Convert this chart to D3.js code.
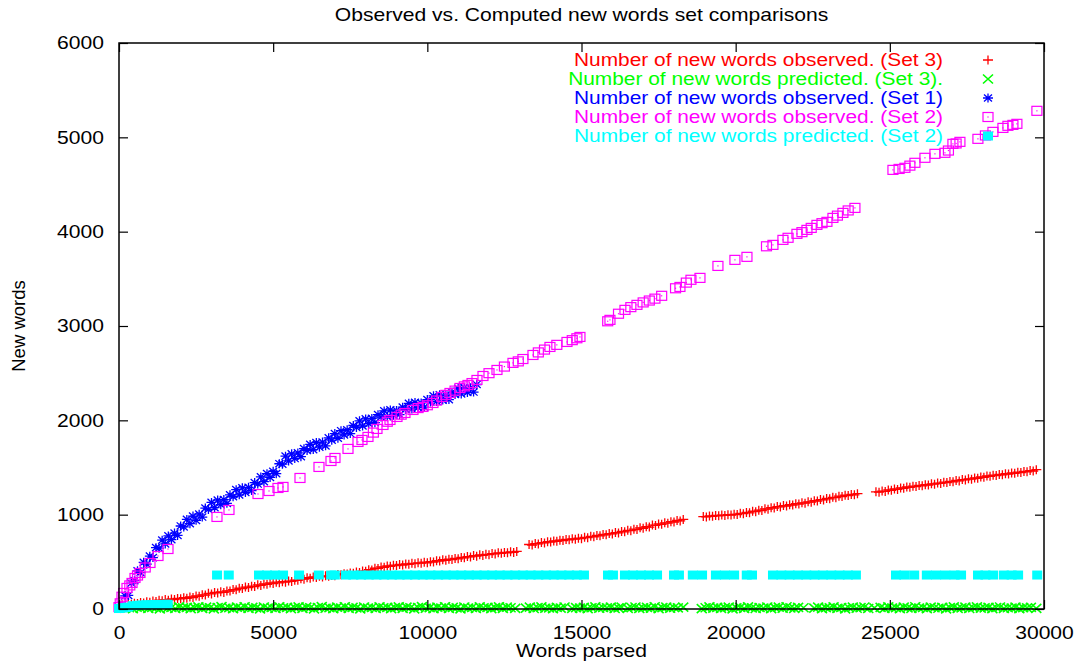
<!DOCTYPE html>
<html>
<head>
<meta charset="utf-8">
<script src="https://cdn.jsdelivr.net/npm/d3@7"></script>
<style>
    body { margin: 0; background: #fff; }
    text { font-family: "Liberation Sans", Arial, sans-serif; }
</style>
</head>
<body>
<svg class="chart"></svg>
<script>
'use strict';

// [words parsed, new words]
var set3Observed = [
    [0,25],[100,45],[200,40],[300,55],[400,50],[500,62],[600,58],[700,70],[800,64],[900,78],[1000,72],[1100,85],[1200,80],
    [1300,94],[1400,88],[1500,100],[1600,94],[1700,106],[1800,100],[1900,112],[2000,108],[2100,120],[2200,114],[2300,128],
    [2400,122],[2500,138],[2600,134],[2700,150],[2800,148],[2900,166],[3000,160],[3100,176],[3200,170],[3300,182],[3400,176],
    [3500,192],[3600,190],[3700,206],[3800,204],[3900,220],[4000,216],[4100,232],[4200,228],[4300,242],[4400,238],[4500,256],
    [4600,250],[4700,266],[4800,262],[4900,276],[5000,270],[5100,284],[5200,278],[5300,290],[5400,284],[5500,296],[5600,292],
    [5700,306],[5800,304],[5900,320],[6000,316],[6100,332],[6200,326],[6300,340],[6400,334],[6500,346],[6600,340],[6700,352],
    [6800,346],[6900,356],[7000,352],[7100,366],[7200,362],[7300,374],[7400,370],[7500,382],[7600,378],[7700,392],[7800,388],
    [7900,402],[8000,400],[8100,416],[8200,414],[8300,432],[8400,430],[8500,446],[8600,442],[8700,456],[8800,452],[8900,464],
    [9000,460],[9100,472],[9200,466],[9300,478],[9400,474],[9500,484],[9600,480],[9700,490],[9800,486],[9900,496],[10000,490],
    [10100,502],[10200,498],[10300,512],[10400,508],[10500,522],[10600,516],[10700,528],[10800,524],[10900,536],[11000,532],
    [11100,546],[11200,542],[11300,556],[11400,552],[11500,566],[11600,560],[11700,574],[11800,568],[11900,580],[12000,576],
    [12100,588],[12200,584],[12300,596],[12400,590],[12500,600],[12600,596],[12700,606],[12800,600],[12900,610],
    [13300,684],[13400,678],[13500,694],[13600,690],[13700,704],[13800,700],[13900,714],[14000,710],[14100,722],[14200,718],
    [14300,730],[14400,726],[14500,738],[14600,734],[14700,744],[14800,740],[14900,750],[15000,746],[15100,760],[15200,756],
    [15300,770],[15400,766],[15500,780],[15600,776],[15700,790],[15800,786],[15900,800],[16000,796],[16100,810],[16200,806],
    [16300,822],[16400,818],[16500,834],[16600,830],[16700,846],[16800,842],[16900,860],[17000,856],[17100,872],[17200,868],
    [17300,890],[17400,886],[17500,902],[17600,898],[17700,914],[17800,910],[17900,926],[18000,922],[18100,938],[18200,934],
    [18300,950],
    [18950,980],[19050,976],[19150,986],[19250,982],[19350,992],[19450,988],[19550,996],[19650,992],[19750,1000],[19850,996],
    [19950,1004],[20050,1002],[20150,1014],[20250,1010],[20350,1024],[20450,1020],[20550,1036],[20650,1032],[20750,1048],
    [20850,1044],[20950,1062],[21050,1058],[21150,1074],[21250,1070],[21350,1086],[21450,1082],[21550,1096],[21650,1092],
    [21750,1106],[21850,1102],[21950,1116],[22050,1112],[22150,1126],[22250,1122],[22350,1136],[22450,1132],[22550,1148],
    [22650,1144],[22750,1160],[22850,1156],[22950,1172],[23050,1168],[23150,1184],[23250,1180],[23350,1196],[23450,1192],
    [23550,1206],[23650,1202],[23750,1214],[23850,1210],[23950,1222],
    [24550,1242],[24650,1238],[24750,1250],[24850,1246],[24950,1262],[25050,1258],[25150,1272],[25250,1268],[25350,1284],
    [25450,1280],[25550,1294],[25650,1290],[25750,1302],[25850,1298],[25950,1310],[26050,1306],[26150,1318],[26250,1314],
    [26350,1327],[26450,1323],[26550,1335],[26650,1331],[26750,1344],[26850,1340],[26950,1352],[27050,1348],[27150,1362],
    [27250,1358],[27350,1372],[27450,1368],[27550,1380],[27650,1376],[27750,1390],[27850,1386],[27950,1400],[28050,1396],
    [28150,1410],[28250,1406],[28350,1418],[28450,1414],[28550,1426],[28650,1422],[28750,1434],[28850,1430],[28950,1442],
    [29050,1438],[29150,1450],[29250,1446],[29350,1458],[29450,1454],[29550,1467],[29650,1463],[29750,1477]
];

var set3Predicted = [
    [200,8],[325,15],[450,4],[575,20],[700,10],[825,24],[950,6],[1075,17],[1200,12],[1325,2],[1450,21],[1575,9],[1700,16],
    [1825,5],[1950,23],[2075,11],[2200,18],[2325,3],[2450,14],[2575,22],[2700,7],[2825,19],[2950,13],[3075,1],[3200,16],
    [3325,25],[3450,8],[3575,15],[3700,4],[3825,20],[3950,10],[4075,24],[4200,6],[4325,17],[4450,12],[4575,2],[4700,21],
    [4825,9],[4950,16],[5075,5],[5200,23],[5325,11],[5450,18],[5575,3],[5700,14],[5825,22],[5950,7],[6075,19],[6200,13],
    [6325,1],[6450,16],[6575,25],[6700,8],[6825,15],[6950,4],[7075,20],[7200,10],[7325,24],[7450,6],[7575,17],[7700,12],
    [7825,2],[7950,21],[8075,9],[8200,16],[8325,5],[8450,23],[8575,11],[8700,18],[8825,3],[8950,14],[9075,22],[9200,7],
    [9325,19],[9450,13],[9575,1],[9700,16],[9825,25],[9950,8],[10075,15],[10200,4],[10325,20],[10450,10],[10575,24],
    [10700,6],[10825,17],[10950,12],[11075,2],[11200,21],[11325,9],[11450,16],[11575,5],[11700,23],[11825,11],[11950,18],
    [12075,3],[12200,14],[12325,22],[12450,7],[12575,19],[12700,13],[12850,6],
    [13200,9],[13325,19],[13450,5],[13575,15],[13700,22],[13825,8],[13950,12],[14075,3],[14200,17],[14325,10],[14450,21],
    [14700,6],[14825,14],[14950,9],[15075,18],[15200,4],[15325,13],[15450,23],[15575,8],[15700,16],[15825,11],[15950,19],
    [16075,5],[16200,12],[16300,20],
    [16500,7],[16625,15],[16750,21],[16875,5],[17000,12],[17125,18],[17250,9],[17375,24],[17500,3],[17625,14],[17750,20],
    [17875,8],[18000,16],[18125,11],[18300,19],
    [18900,4],[19025,13],[19150,22],[19275,9],[19400,17],[19525,6],[19650,15],[19775,20],[19900,2],[20025,11],[20150,18],
    [20275,7],[20400,23],[20525,12],[20650,5],[20775,16],[20900,10],[21025,21],[21150,3],[21275,14],[21400,19],[21525,8],
    [21650,24],[21775,11],[21900,6],[22025,17],[22200,13],
    [22550,9],[22675,20],[22800,4],[22925,15],[23050,11],[23175,22],[23300,7],[23425,16],[23550,2],[23675,13],[23800,19],
    [23925,8],[24050,14],[24175,21],[24300,5],[24500,12],
    [24700,17],[24825,6],[24950,22],[25075,10],[25200,15],[25325,3],[25450,19],[25575,12],[25700,7],[25825,24],[25950,9],
    [26075,16],[26200,4],[26325,20],[26450,13],[26575,8],[26700,18],[26825,2],[26950,14],[27075,22],[27200,6],[27325,11],
    [27450,19],[27575,5],[27700,15],[27825,23],[27950,9],[28075,12],[28200,18],[28325,3],[28450,16],[28575,21],[28700,7],
    [28825,13],[28950,10],[29075,20],[29200,4],[29325,15],[29450,11],[29575,18],[29750,6]
];

var set1Observed = [
    [0,20],[100,30],[200,140],[300,145],[400,275],[500,300],[600,405],[700,385],[800,495],[900,475],[1000,560],[1100,545],
    [1200,650],[1300,645],[1400,730],[1500,690],[1600,775],[1700,735],[1800,805],[1900,780],[2000,880],[2100,870],[2200,950],
    [2300,905],[2400,985],[2500,940],[2600,1005],[2700,975],[2800,1070],[2900,1055],[3000,1130],[3100,1075],[3200,1155],
    [3300,1105],[3400,1160],[3500,1120],[3600,1210],[3700,1190],[3800,1265],[3900,1210],[4000,1285],[4100,1235],[4200,1290],
    [4300,1255],[4400,1340],[4500,1325],[4600,1400],[4700,1350],[4800,1435],[4900,1395],[5000,1460],[5100,1435],[5200,1540],
    [5300,1535],[5400,1620],[5500,1570],[5600,1645],[5700,1595],[5800,1655],[5900,1615],[6000,1700],[6100,1680],[6200,1745],
    [6300,1690],[6400,1765],[6500,1715],[6600,1770],[6700,1730],[6800,1815],[6900,1790],[7000,1860],[7100,1810],[7200,1890],
    [7300,1845],[7400,1900],[7500,1860],[7600,1945],[7700,1925],[7800,1995],[7900,1940],[8000,2015],[8100,1965],[8200,2020],
    [8300,1975],[8400,2060],[8500,2035],[8600,2100],[8700,2040],[8800,2110],[8900,2055],[9000,2105],[9100,2060],[9200,2140],
    [9300,2115],[9400,2180],[9500,2120],[9600,2190],[9700,2135],[9800,2185],[9900,2140],[10000,2220],[10100,2195],[10200,2260],
    [10300,2200],[10400,2270],[10500,2215],[10600,2265],[10700,2220],[10800,2300],[10900,2275],[11000,2340],[11100,2280],
    [11200,2350],[11300,2295],[11400,2345],[11500,2300],[11600,2380]
];

var set2Observed = [
    [0,20],[40,60],[97,130],[150,170],[259,223],[350,250],[422,276],[519,329],[600,355],[681,382],
    [850,440],[1005,488],[1265,562],[1589,636],
    [3178,976],[3567,1050],[4508,1219],[4865,1251],[5156,1283],[5319,1294],[5870,1389],[6486,1506],[6875,1569],[7005,1601],
    [7427,1697],[7751,1771],[7880,1792],[8075,1824],[8250,1870],[8367,1909],[8562,1951],[8700,1985],[8789,2004],[9016,2036],
    [9150,2060],[9275,2078],[9535,2110],[9700,2130],[9859,2142],[10000,2160],[10183,2184],[10300,2210],[10475,2248],[10600,2270],
    [10734,2290],[10900,2315],[11058,2343],[11200,2360],[11318,2375],[11450,2395],[11610,2428],[11805,2470],[12000,2500],[12259,2534],
    [12500,2570],[12778,2609],[12950,2625],[13100,2650],[13426,2693],[13600,2720],[13800,2750],[13977,2778],[14200,2800],[14529,2831],
    [14700,2850],[14850,2870],[14950,2884],
    [15850,3050],[15923,3065],[16200,3130],[16410,3171],[16600,3200],[16799,3224],[17000,3250],[17200,3270],[17382,3290],[17600,3320],
    [18050,3400],[18193,3414],[18400,3460],[18550,3490],[18842,3510],[19425,3637],[19976,3701],[20366,3733],[21000,3845],[21209,3860],
    [21533,3913],[21700,3935],[21987,3977],[22150,3995],[22312,4019],[22450,4040],[22636,4072],[22800,4090],[22960,4104],[23155,4146],
    [23300,4170],[23479,4199],[23650,4225],[23868,4252],
    [25101,4655],[25300,4665],[25490,4677],[25650,4700],[25814,4730],[26139,4783],[26463,4825],[26787,4836],[26900,4860],[27046,4931],
    [27150,4935],[27273,4952],[27857,4984],[28100,5020],[28344,5058],[28668,5100],[28830,5122],[28992,5132],[29121,5143],[29770,5281]
];

var set2Predicted = [
    [0,5],[100,10],[200,15],[300,20],[450,35],[600,40],[750,42],[900,45],[1050,45],[1200,48],
    [1350,48],[1500,50],[1580,50],
    [3180,360],[3560,360],[4540,360],[4800,360],[5060,360],[5320,360],[5840,360],[6480,360],[6880,360],[7000,360],
    [7360,360],[7600,360],[7850,360],[8100,360],[8350,360],[8600,360],[8850,360],[9100,360],[9350,360],[9600,360],
    [9850,360],[10100,360],[10350,360],[10600,360],[10850,360],[11100,360],[11350,360],[11600,360],[11850,360],[12100,360],
    [12350,360],[12600,360],[12850,360],[13100,360],[13350,360],[13600,360],[13850,360],[14100,360],[14350,360],[14600,360],
    [14850,360],[15080,360],[15860,360],[16020,360],[16410,360],[16670,360],[16930,360],[17190,360],[17450,360],[18000,360],
    [18160,360],[18610,360],[18910,360],[19360,360],[19650,360],[19950,360],[20360,360],[20530,360],[21210,360],[21480,360],
    [21750,360],[22020,360],[22290,360],[22560,360],[22830,360],[23100,360],[23370,360],[23640,360],[23900,360],[25200,360],
    [25470,360],[25790,360],[26200,360],[26500,360],[26800,360],[27100,360],[27310,360],[27860,360],[28100,360],[28350,360],
    [28700,360],[28950,360],[29160,360],[29780,360]
];

var X_TICKS = [0, 5000, 10000, 15000, 20000, 25000, 30000];
var Y_TICKS = [0, 1000, 2000, 3000, 4000, 5000, 6000];
var LEGEND_LABELS = [
    "Number of new words observed. (Set 3)",
    "Number of new words predicted. (Set 3).",
    "Number of new words observed. (Set 1)",
    "Number of new words observed. (Set 2)",
    "Number of new words predicted. (Set 2)"
];

var CHART_WIDTH = 1076;
var CHART_HEIGHT = 666;
var CHART_MARGIN = { top: 43, right: 32, bottom: 57, left: 119 };
var TICK = 9;
var FONT_SIZE = "18.5px";
var STRETCH = 1.14; // the reference glyphs are a little wider than Liberation Sans

var innerWidth = CHART_WIDTH - CHART_MARGIN.left - CHART_MARGIN.right;
var innerHeight = CHART_HEIGHT - CHART_MARGIN.top - CHART_MARGIN.bottom;

var series = [
    { data: set3Observed, color: "#ff0000", shape: "plus" },
    { data: set3Predicted, color: "#00ff00", shape: "cross" },
    { data: set1Observed, color: "#0000ff", shape: "star" },
    { data: set2Observed, color: "#ff00ff", shape: "box" },
    { data: set2Predicted, color: "#00ffff", shape: "fbox" }
];

var xScale = d3.scaleLinear().domain([0, 30000]).range([0, innerWidth]);
var yScale = d3.scaleLinear().domain([0, 6000]).range([innerHeight, 0]);

var svg = d3.select(".chart")
    .attr("width", CHART_WIDTH)
    .attr("height", CHART_HEIGHT);

var plot = svg.append("g")
    .attr("transform", "translate(" + CHART_MARGIN.left + "," + CHART_MARGIN.top + ")");

// widen text horizontally without making it taller
function stretch(sel, factor) {
    sel.each(function () {
        var w = this.getComputedTextLength();
        d3.select(this).attr("textLength", w * factor).attr("lengthAdjust", "spacingAndGlyphs");
    });
}

// gnuplot style point shapes
function drawMarker(sel, shape, color) {
    var width = 1.3;
    if (shape === "plus") {
        sel.append("path").attr("d", "M-5,0H5M0,-4.5V4.5");
    } else if (shape === "cross") {
        sel.append("path").attr("d", "M-5,-4.5L5,4.5M-5,4.5L5,-4.5");
        width = 1.6;
    } else if (shape === "star") {
        sel.append("path").attr("d", "M-5,0H5M0,-4.5V4.5M-4,-3.6L4,3.6M-4,3.6L4,-3.6");
    } else if (shape === "box") {
        sel.append("rect").attr("x", -5).attr("y", -4.5).attr("width", 10).attr("height", 9)
            .attr("fill", "none").attr("stroke", color).attr("stroke-width", 1.2);
        sel.append("rect").attr("x", -0.6).attr("y", -0.6)
            .attr("width", 1.2).attr("height", 1.2).attr("fill", color);
    } else if (shape === "fbox") {
        sel.append("rect").attr("x", -5).attr("y", -4.5).attr("width", 10).attr("height", 9)
            .attr("fill", color);
    }
    sel.selectAll("path").attr("fill", "none").attr("stroke", color).attr("stroke-width", width);
}

// points, drawn in the order of the legend
series.forEach(function (s) {
    var pts = plot.append("g").selectAll("g")
        .data(s.data)
        .enter()
        .append("g")
        .attr("transform", function (d) {
            return "translate(" + xScale(d[0]) + "," + yScale(d[1]) + ")";
        });
    drawMarker(pts, s.shape, s.color);
});

// axes with inward ticks, mirrored on top and right
var xAxis = d3.axisBottom(xScale).tickValues(X_TICKS).tickSize(-TICK).tickPadding(17).tickFormat(d3.format("d"));
var yAxis = d3.axisLeft(yScale).tickValues(Y_TICKS).tickSize(-TICK).tickPadding(15).tickFormat(d3.format("d"));
var xAxisTop = d3.axisTop(xScale).tickValues(X_TICKS).tickSize(-TICK).tickFormat("");
var yAxisRight = d3.axisRight(yScale).tickValues(Y_TICKS).tickSize(-TICK).tickFormat("");

plot.append("g").attr("transform", "translate(0," + innerHeight + ")").call(xAxis);
plot.append("g").call(yAxis);
plot.append("g").call(xAxisTop);
plot.append("g").attr("transform", "translate(" + innerWidth + ",0)").call(yAxisRight);

plot.selectAll(".domain").remove();
plot.selectAll(".tick line").attr("stroke", "#000").attr("stroke-width", 1.2);
plot.selectAll(".tick text")
    .attr("fill", "#000")
    .style("font-size", FONT_SIZE)
    .style("font-family", "'Liberation Sans', Arial, sans-serif")
    .call(stretch, STRETCH);

plot.append("rect")
    .attr("width", innerWidth)
    .attr("height", innerHeight)
    .attr("fill", "none")
    .attr("stroke", "#000")
    .attr("stroke-width", 1.5);

// title and axis labels
svg.append("text")
    .attr("x", CHART_MARGIN.left + innerWidth / 2)
    .attr("y", 21)
    .attr("text-anchor", "middle")
    .style("font-size", FONT_SIZE)
    .text("Observed vs. Computed new words set comparisons")
    .call(stretch, STRETCH);

svg.append("text")
    .attr("x", CHART_MARGIN.left + innerWidth / 2)
    .attr("y", 657)
    .attr("text-anchor", "middle")
    .style("font-size", FONT_SIZE)
    .text("Words parsed")
    .call(stretch, STRETCH);

svg.append("text")
    .attr("transform", "translate(25," + (CHART_MARGIN.top + innerHeight / 2) + ") rotate(-90)")
    .attr("text-anchor", "middle")
    .style("font-size", FONT_SIZE)
    .text("New words");

// legend
var legend = svg.append("g").selectAll("g")
    .data(series)
    .enter()
    .append("g")
    .attr("transform", function (d, i) { return "translate(0," + (60 + i * 19) + ")"; });

legend.append("text")
    .attr("x", 943)
    .attr("y", 6)
    .attr("text-anchor", "end")
    .style("font-size", "18px")
    .attr("fill", function (d) { return d.color; })
    .text(function (d, i) { return LEGEND_LABELS[i]; })
    .call(stretch, 1.16);

legend.each(function (d) {
    var g = d3.select(this).append("g").attr("transform", "translate(988,0)");
    drawMarker(g, d.shape, d.color);
});
</script>
</body>
</html>
